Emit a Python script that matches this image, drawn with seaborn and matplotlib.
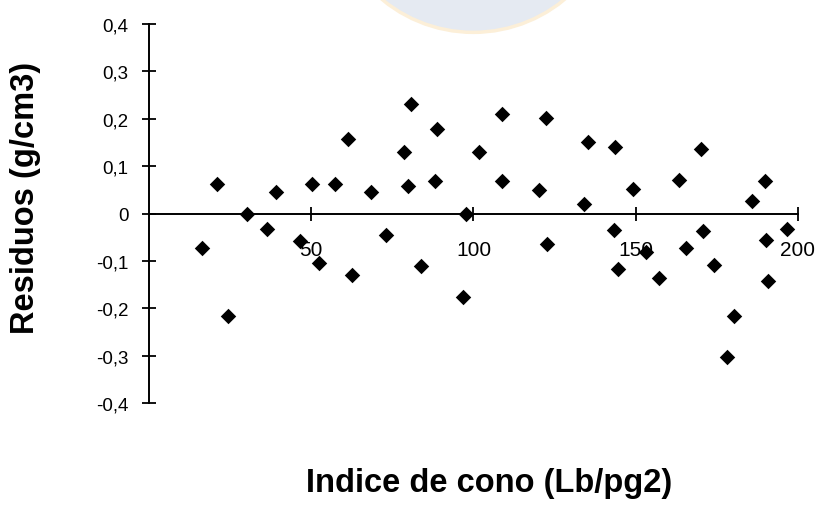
import matplotlib
matplotlib.use("Agg")
import matplotlib.pyplot as plt
from matplotlib.patches import Ellipse
from matplotlib.ticker import FuncFormatter
import numpy as np
import pandas as pd
import seaborn as sns

# cone index (Lb/pg2) and residuals (g/cm3)
indice_cono = [
    16.4, 21.0, 24.4, 30.1, 36.4, 39.1, 46.5, 50.1, 52.5, 57.3,
    61.2, 62.7, 68.5, 73.0, 78.5, 79.8, 80.6, 83.9, 88.2, 88.9,
    96.8, 97.6, 101.7, 108.7, 108.8, 120.2, 122.5, 122.7, 134.2, 135.3,
    143.2, 143.7, 144.5, 149.3, 153.1, 157.2, 163.4, 165.6, 170.0, 170.8,
    174.0, 178.2, 180.2, 185.9, 189.9, 190.3, 190.9, 196.7,
]
residuos = [
    -0.072, 0.063, -0.217, 0.000, -0.033, 0.045, -0.058, 0.063, -0.105, 0.063,
    0.157, -0.129, 0.045, -0.046, 0.129, 0.058, 0.231, -0.110, 0.068, 0.179,
    -0.177, -0.002, 0.129, 0.068, 0.211, 0.049, 0.202, -0.065, 0.020, 0.151,
    -0.035, 0.140, -0.118, 0.052, -0.081, -0.137, 0.070, -0.072, 0.136, -0.037,
    -0.109, -0.302, -0.217, 0.027, 0.069, -0.055, -0.143, -0.032,
]
x_ticks = [50, 100, 150, 200]
y_ticks = [-0.4, -0.3, -0.2, -0.1, 0.0, 0.1, 0.2, 0.3, 0.4]

df = pd.DataFrame({"indice": indice_cono, "residuo": residuos})

sns.set_theme(style="white")
plt.rcParams["font.family"] = ["Liberation Sans", "DejaVu Sans"]
plt.rcParams.update({"text.color": "black", "axes.labelcolor": "black",
                     "xtick.color": "black", "ytick.color": "black"})

fig = plt.figure(figsize=(8.16, 5.1), dpi=100)
fig.patch.set_facecolor("white")

# faint watermark from the scanned page
fig.patches.append(Ellipse((0.58, 1.215), 2 * 143 / 816, 2 * 143 / 510,
                           transform=fig.transFigure, facecolor="#e5eaf2",
                           edgecolor="#fcefd8", linewidth=2.5, zorder=0))

ax = fig.add_axes([0.1826, 0.2078, 0.7953, 0.7431])
ax.set_facecolor("none")

sns.scatterplot(data=df, x="indice", y="residuo", marker="D", color="black",
                s=62, linewidth=0, ax=ax, zorder=3)

ax.set_xlim(0, 200)
ax.set_ylim(-0.4, 0.4)

ax.spines["top"].set_visible(False)
ax.spines["right"].set_visible(False)
ax.spines["bottom"].set_position(("data", 0))
for side in ("left", "bottom"):
    ax.spines[side].set_color("black")
    ax.spines[side].set_linewidth(1.4)

ax.set_xticks(x_ticks)
ax.set_yticks(y_ticks)
ax.yaxis.set_major_formatter(FuncFormatter(
    lambda v, _: "0" if abs(v) < 1e-9 else f"{v:.1f}".replace(".", ",")))
ax.tick_params(axis="x", direction="inout", length=9.5, width=1.3,
               color="black", labelcolor="black", labelsize=15, pad=14, bottom=True)
ax.tick_params(axis="y", direction="inout", length=9.5, width=1.3,
               color="black", labelcolor="black", labelsize=13.5, pad=10, left=True)

ax.set_xlabel("Indice de cono (Lb/pg2)", fontsize=23.5, fontweight="bold",
              va="baseline", ha="center", color="black")
ax.xaxis.set_label_coords(0.524, -0.231)
ax.set_ylabel("Residuos (g/cm3)", fontsize=23.5, fontweight="bold",
              va="center", ha="center", color="black")
ax.yaxis.set_label_coords(-0.191, 0.545)

fig.savefig("out.png", dpi=100)
